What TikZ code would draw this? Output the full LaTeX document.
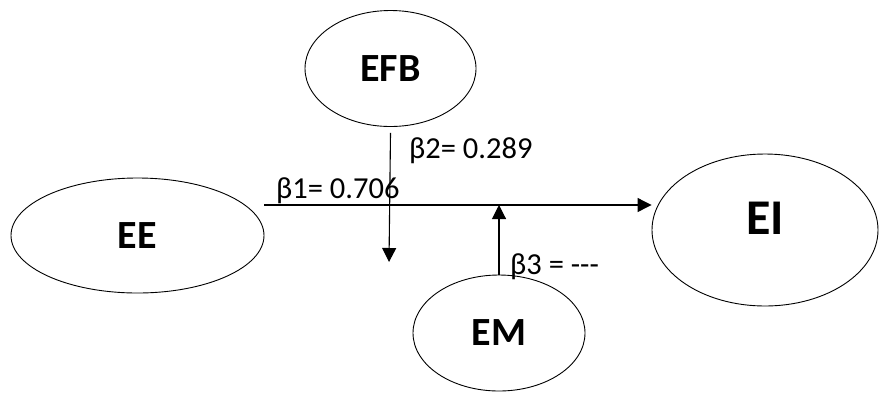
\documentclass[tikz,border=0pt]{standalone}
\usepackage{fontspec}
\setmainfont{Carlito}[Ligatures=NoCommon]
\usetikzlibrary{shapes.geometric,arrows.meta}

\tikzset{
  var/.style={draw, ellipse, line width=0.9pt, inner sep=0pt},
  vname/.style={font=\fontsize{40}{44}\selectfont\bfseries},
  coef/.style={font=\fontsize{30.5}{34}\selectfont, inner sep=0pt, anchor=base west},
  path/.style={line width=1.1pt, -{Triangle[width=14pt,length=14pt]}}
}

\begin{document}
\begin{tikzpicture}[x=1pt, y=-1pt]
\useasboundingbox (0,0) rectangle (880,392);

\node[var, vname, minimum width=171pt, minimum height=116pt] (EFB) at (390.5,68.5) {EFB};
\node[var, vname, minimum width=253pt, minimum height=115pt] (EE) at (137.5,235.5) {EE};
\node[var, minimum width=226pt, minimum height=152pt,
      label={[font=\fontsize{50}{54}\selectfont\bfseries, yshift=12pt]center:EI}] (EI) at (765,230) {};
\node[var, vname, minimum width=172pt, minimum height=116pt] (EM) at (499,333) {EM};

\coordinate (s1) at (264,205);
\coordinate (d1) at (389,262);

\draw[path] (s1) -- (s1 -| EI.west);
\draw[path] ([yshift=-6pt]EFB.south) -- (d1);
\draw[path] (EM.north) -- (EM.north |- s1);

\node[coef] (b1) at (276,198) {β1= 0.706};
\node[coef] (b2) at (409,158) {β2= 0.289};
\node[coef] (b3) at (510,274) {β3 = {-}{-}{-}};
\end{tikzpicture}
\end{document}
